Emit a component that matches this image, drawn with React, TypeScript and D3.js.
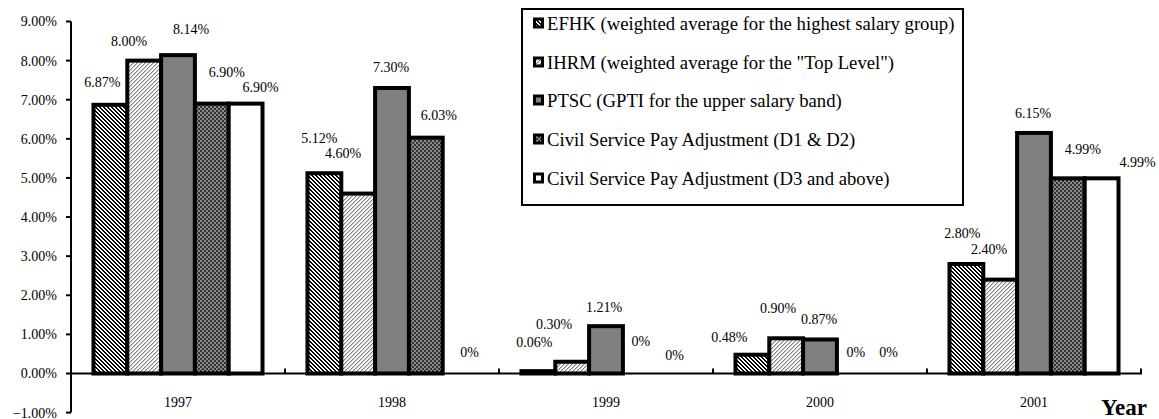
import React from "react";
import * as d3 from "d3";

const years = ["1997", "1998", "1999", "2000", "2001"];
const efhk = [6.87, 5.12, 0.06, 0.48, 2.8];
const ihrm = [8.0, 4.6, 0.3, 0.9, 2.4];
const ptsc = [8.14, 7.3, 1.21, 0.87, 6.15];
const csD1 = [6.9, 6.03, 0, 0, 4.99];
const csD3 = [6.9, 0, 0, 0, 4.99];
const seriesNames = [
  "EFHK (weighted average for the highest salary group)",
  'IHRM (weighted average for the "Top Level")',
  "PTSC (GPTI for the upper salary band)",
  "Civil Service Pay Adjustment (D1 & D2)",
  "Civil Service Pay Adjustment (D3 and above)",
];
const yTicks = [-1, 0, 1, 2, 3, 4, 5, 6, 7, 8, 9];

// label nudges (dx, dy) relative to the bar top centre, as placed in the original
const efhkNudge = [[-8, -23], [-5, -35], [-4, -29], [-23, -18], [-4, -31]];
const ihrmNudge = [[-15, -20], [-15, -40], [-18, -38], [-8, -30], [-11, -31]];
const ptscNudge = [[13, -26], [-1, -21], [-2, -19], [-1, -20], [-1, -20]];
const csD1Nudge = [[15, -32], [13, -23], [1, -32], [2, -21], [15, -29]];
const csD3Nudge = [[15, -17], [10, -21], [1, -18], [1, -21], [36, -16]];

const W = 1159;
const H = 419;
const FONT = "'Liberation Serif', 'Times New Roman', serif";

export default function App() {
  const seriesValues = [efhk, ihrm, ptsc, csD1, csD3];
  const nudges = [efhkNudge, ihrmNudge, ptscNudge, csD1Nudge, csD3Nudge];
  const fills = ["url(#pEFHK)", "url(#pIHRM)", "#808080", "url(#pD1)", "#ffffff"];
  const keys = seriesNames.map((_, i) => String(i));

  const x = d3.scaleBand().domain(years).range([71, 1141]).paddingInner(0).paddingOuter(0);
  const xs = d3.scaleBand().domain(keys).range([0, x.bandwidth()]).paddingInner(0).paddingOuter(0.665);
  const y = d3.scaleLinear().domain([-1, 9]).range([412.6, 21.5]);
  const y0 = y(0);
  const fmt = (v: number) => (v === 0 ? "0%" : d3.format(".2f")(v) + "%");

  const bars: React.ReactNode[] = [];
  const labels: React.ReactNode[] = [];
  seriesValues.forEach((vals, s) => {
    vals.forEach((v, i) => {
      const bx = (x(years[i]) as number) + (xs(keys[s]) as number);
      const bw = xs.bandwidth();
      if (v > 0) {
        bars.push(
          <rect key={`b${s}-${i}`} x={bx} y={y(v)} width={bw} height={y0 - y(v)}
            fill={fills[s]} stroke="#000" strokeWidth={4} />
        );
      }
      const [dx, dy] = nudges[s][i];
      labels.push(
        <text key={`l${s}-${i}`} x={bx + bw / 2 + dx} y={y(v) + dy} dy="0.35em"
          textAnchor="middle" fontSize={14} fontFamily={FONT} fill="#000">
          {fmt(v)}
        </text>
      );
    });
  });

  const legendX = 522, legendY = 9, legendW = 441, legendH = 196;
  const legendRows = [23, 62, 100, 139, 178];

  return (
    <svg width={W} height={H} style={{ position: "absolute", left: 0, top: 0, display: "block", background: "#fff" }}>
      <defs>
        <pattern id="pEFHK" width={4} height={4} patternUnits="userSpaceOnUse">
          <rect width={4} height={4} fill="#fff" />
          {[[0, 0], [1, 0], [1, 1], [2, 1], [2, 2], [3, 2], [3, 3], [0, 3]].map(([px, py], k) => (
            <rect key={k} x={px} y={py} width={1} height={1} fill="#000" shapeRendering="crispEdges" />
          ))}
        </pattern>
        <pattern id="pIHRM" width={4} height={4} patternUnits="userSpaceOnUse">
          <rect width={4} height={4} fill="#fff" />
          {[[3, 0], [2, 1], [1, 2], [0, 3]].map(([px, py], k) => (
            <rect key={k} x={px} y={py} width={1} height={1} fill="#808080" shapeRendering="crispEdges" />
          ))}
          {[[0, 0], [3, 1], [2, 2], [1, 3]].map(([px, py], k) => (
            <rect key={"b" + k} x={px} y={py} width={1} height={1} fill="#c8c8c8" shapeRendering="crispEdges" />
          ))}
        </pattern>
        <pattern id="pD1" width={4} height={4} patternUnits="userSpaceOnUse">
          <rect width={4} height={4} fill="#333" />
          <rect x={0} y={0} width={2} height={2} fill="#8c8c8c" shapeRendering="crispEdges" />
          <rect x={2} y={2} width={2} height={2} fill="#8c8c8c" shapeRendering="crispEdges" />
        </pattern>
      </defs>

      {/* bars */}
      {bars}

      {/* y axis */}
      <line x1={71} x2={71} y1={y(9)} y2={y(-1)} stroke="#000" strokeWidth={2} />
      {yTicks.map((t) => (
        <g key={t}>
          <line x1={66} x2={71} y1={y(t)} y2={y(t)} stroke="#000" strokeWidth={2} />
          <text x={57} y={y(t)} dy="0.35em" textAnchor="end" fontSize={14} fontFamily={FONT} fill="#000">
            {d3.format(".2f")(t) + "%"}
          </text>
        </g>
      ))}

      {/* x axis */}
      <line x1={71} x2={1142} y1={y0} y2={y0} stroke="#000" strokeWidth={2} />
      {years.map((yr) => (
        <g key={yr}>
          <line x1={(x(yr) as number) + x.bandwidth()} x2={(x(yr) as number) + x.bandwidth()}
            y1={y0 - 5} y2={y0} stroke="#000" strokeWidth={2} />
          <text x={(x(yr) as number) + x.bandwidth() / 2} y={402} dy="0.35em" textAnchor="middle"
            fontSize={14} fontFamily={FONT} fill="#000">{yr}</text>
        </g>
      ))}

      {/* data labels */}
      {labels}

      {/* legend */}
      <rect x={legendX} y={legendY} width={legendW} height={legendH} fill="#fff" stroke="#000" strokeWidth={2} />
      {seriesNames.map((name, s) => (
        <g key={name}>
          <rect x={533} y={legendRows[s] - 5.5} width={11} height={11} fill="#000" />
          <rect x={536} y={legendRows[s] - 2.5} width={5} height={5} fill={fills[s]} />
          <text x={547} y={legendRows[s]} dy="0.35em" fontSize={18.7} fontFamily={FONT} fill="#000">{name}</text>
        </g>
      ))}

      {/* axis title */}
      <text x={1147} y={415} textAnchor="end" fontSize={23} fontWeight="bold" fontFamily={FONT} fill="#000">Year</text>
    </svg>
  );
}
